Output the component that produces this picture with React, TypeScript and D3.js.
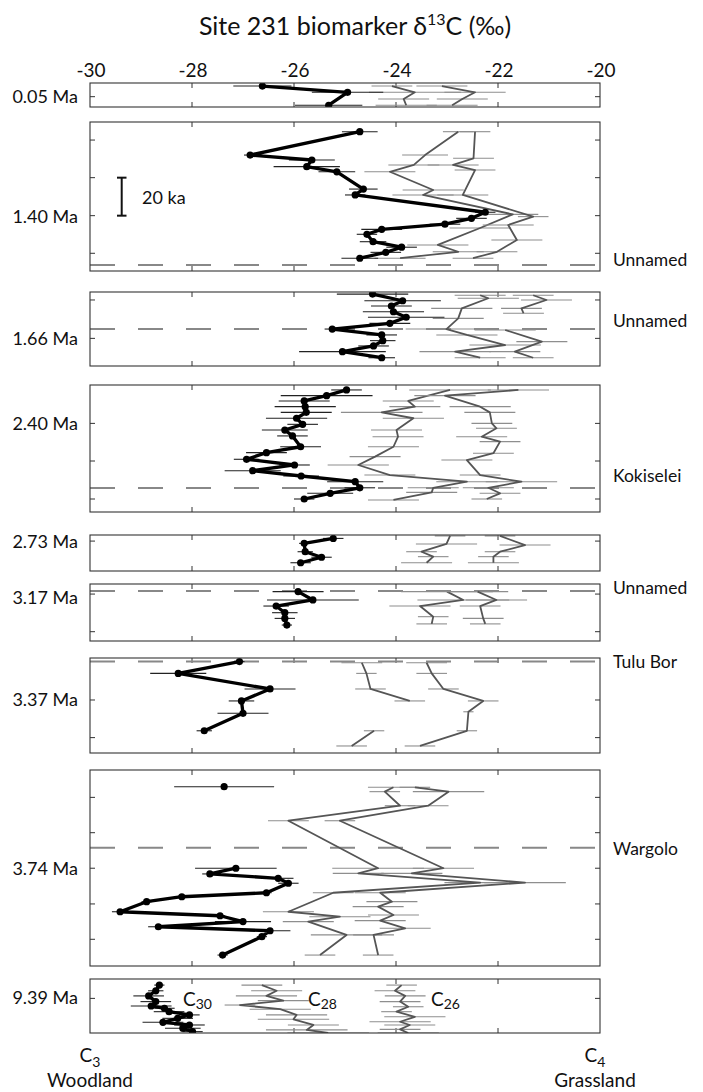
import React from 'react';
import * as d3 from 'd3';

type P = [number, number, number] | null; // [ka below panel top, d13C, error]

// ---------- axis / labels ----------
const xTickValues = [-30, -28, -26, -24, -22, -20];
const innerXTicks = [-28, -26, -24, -22];
const ageLabels = ['0.05 Ma', '1.40 Ma', '1.66 Ma', '2.40 Ma', '2.73 Ma', '3.17 Ma', '3.37 Ma', '3.74 Ma', '9.39 Ma'];
const memberLabels = ['', 'Unnamed', 'Unnamed', 'Kokiselei', '', 'Unnamed', 'Tulu Bor', 'Wargolo', ''];

// ---------- C30 (black) ----------
const c30_005: P[] = [[1.6, -26.62, 0.57], [4.9, -24.95, 0.7], [11.7, -25.32, 0.66]];
const c30_140: P[] = [[5.1, -24.71, 0.35], [17.4, -26.86, 0.12], [20, -25.65, 0.45], [23.5, -25.75, 0.65], [26.2, -25.16, 0.36], [35.3, -24.64, 0.28], [38.4, -24.8, 0.2], [47.5, -22.25, 0.2], [50.7, -22.52, 0.3], [53.8, -23.04, 0.3], [56.5, -24.28, 0.4], [59.1, -24.57, 0.2], [63, -24.45, 0.26], [65.9, -23.89, 0.3], [68.6, -24.2, 0.3], [71.7, -24.71, 0.36]];
const c30_166: P[] = [[1.1, -24.46, 0.7], [4.6, -23.87, 0.75], [7.4, -24.09, 0.4], [10.4, -24.05, 0.6], [13.3, -23.8, 0.75], [16.5, -24.12, 0.4], [19.5, -25.25, 0.15], [22.6, -24.28, 0.3], [25.6, -24.26, 0.25], [28.4, -24.44, 0.3], [31.4, -25.05, 0.85], [34.6, -24.28, 0.26]];
const c30_240: P[] = [[2.6, -24.97, 0.3], [5.6, -25.36, 0.9], [8.4, -25.8, 0.5], [11.4, -25.78, 0.6], [14.4, -25.76, 0.5], [17.5, -25.95, 0.6], [20.7, -25.83, 0.3], [23.7, -26.18, 0.45], [26.8, -26.03, 0.3], [32.5, -25.87, 0.4], [35.6, -26.54, 0.4], [39.1, -26.93, 0.25], [42.1, -25.99, 0.3], [45.1, -26.81, 0.55], [47.9, -25.86, 0.35], [50.9, -24.8, 0.55], [54.1, -24.71, 0.3], [57, -25.29, 0.45], [60, -25.8, 0.2]];
const c30_273: P[] = [[1.8, -25.23, 0.2], [4.4, -25.8, 0.1], [8.8, -25.78, 0.15], [11.7, -25.46, 0.2], [14.6, -25.87, 0.2]];
const c30_317: P[] = [[4.0, -25.92, 0.5], [8.4, -25.63, 0.9], [11.6, -26.35, 0.25], [15.1, -26.18, 0.25], [18.1, -26.18, 0.2], [21.6, -26.14, 0.1]];
const c30_337: P[] = [[1.9, -27.07, 0.1], [8.1, -28.27, 0.55], [16.3, -26.47, 0.5], [22.6, -27.03, 0.25], [29.1, -27.0, 0.5], [38.3, -27.76, 0.15]];
const c30_374: P[] = [[8.8, -27.37, 0.98], null, [51.7, -27.14, 0.8], [54.7, -27.65, 0.15], [57, -26.31, 0.3], [59.6, -26.11, 0.2], [64.6, -26.54, 0.1], [66.7, -28.2, 0.1], [69.3, -28.89, 0.1], [74.6, -29.41, 0.16], [76.7, -27.45, 0.1], [79.8, -27.0, 0.55], [82.5, -28.66, 0.2], [84.6, -26.47, 0.4], [87.7, -26.63, 0.1], [97.4, -27.4, 0.1]];
const c30_939: P[] = [[3.2, -28.64, 0.1], [6.2, -28.71, 0.15], [8.9, -28.85, 0.3], [11.9, -28.71, 0.3], [14.2, -28.8, 0.4], [15.4, -28.54, 0.2], [17.2, -28.45, 0.3], [18.9, -28.05, 0.2], [20.7, -28.28, 0.3], [22.8, -28.57, 0.4], [24.2, -28.05, 0.3], [25.9, -28.18, 0.35], [27.7, -27.99, 0.2]];

// ---------- C28 (grey) ----------
const c28_005: P[] = [[1.6, -24.08, 0.4], [4.9, -23.63, 0.9], [8.4, -23.85, 0.5], [11.7, -23.8, 0.6]];
const c28_140: P[] = [[5.1, -22.78, 0.3], [17.4, -23.43, 0.45], [22.6, -23.65, 0.5], [26.2, -24.12, 0.5], [35.8, -23.27, 0.6], [38.4, -23.47, 0.6], [48.6, -21.71, 0.5], [55.8, -22.35, 0.6], [64.7, -23.18, 0.6], [68.3, -22.78, 0.5], [71.7, -23.92, 0.5]];
const c28_166: P[] = [[1.7, -22.35, 0.5], [3.3, -22.19, 0.6], [8.6, -22.71, 0.6], [13.9, -22.78, 0.5], [19.5, -23.01, 0.8], [22.6, -22.61, 0.6], [27.9, -21.86, 0.7], [31.4, -22.84, 0.7], [34.6, -22.35, 0.5]];
const c28_240: P[] = [[2.6, -22.94, 0.8], [8.4, -23.76, 0.5], [11.4, -23.63, 0.5], [14.4, -24.28, 0.8], [17.5, -23.66, 0.6], [23.7, -23.99, 0.5], [27.2, -23.96, 0.5], [32.5, -24.05, 0.5], [37.7, -24.41, 0.5], [42.1, -24.74, 0.6], [47.4, -24.12, 0.5], [50.9, -22.61, 0.6], [54.1, -23.27, 0.5], [56.5, -23.3, 0.5], [60.5, -24.05, 0.5]];
const c28_273: P[] = [[0.5, -22.94, 0.3], [4.7, -23.01, 0.6], [8.8, -23.5, 0.3], [11.4, -23.27, 0.3], [14.6, -23.4, 0.5]];
const c28_317: P[] = [[4.0, -23.0, 0.9], [8.4, -22.68, 0.9], [11.6, -23.53, 0.6], [17.2, -23.27, 0.3], [21, -23.3, 0.3]];
const c28_337: P[] = [[2.5, -24.67, 0.4], [8.1, -24.58, 0.2], [16.3, -24.5, 0.3], [22.6, -23.73, 0.3], null, [38.3, -24.43, 0.2], [46.3, -24.87, 0.3]];
const c28_374: P[] = [[9.1, -24.05, 0.5], [11.4, -24.22, 0.3], [18.8, -23.92, 0.3], [26.7, -26.11, 0.4], [51.7, -24.35, 0.9], [54.4, -24.74, 0.5], [59.3, -22.35, 0.7], [64.6, -25.23, 0.4], [74.6, -26.11, 0.5], [77.2, -25.1, 0.6], [79.8, -25.72, 0.5], [86.8, -24.97, 0.7], [97.4, -25.49, 0.3]];
const c28_939: P[] = [[3.2, -26.63, 0.4], [6.2, -26.34, 0.5], [8.9, -26.54, 0.6], [11.4, -26.21, 0.5], [13.7, -27.06, 0.3], [15.9, -26.27, 0.6], [18.9, -25.95, 0.6], [21.2, -26.01, 0.7], [24.2, -25.62, 0.5], [26.8, -25.75, 0.8], [28.4, -25.33, 0.8]];

// ---------- C26 (grey) ----------
const c26_005: P[] = [[1.6, -23.1, 0.5], [4.9, -22.45, 0.6], [8.4, -22.7, 0.5], [11.7, -22.9, 0.5]];
const c26_140: P[] = [[5.1, -22.45, 0.3], [19.1, -22.48, 0.4], [22.6, -22.88, 0.5], [25.3, -22.45, 0.4], [38.4, -22.69, 0.5], [49.8, -21.31, 0.3], [54.2, -21.8, 0.5], [62.1, -21.63, 0.5], [68.3, -22.02, 0.4], [71.7, -22.49, 0.4]];
const c26_166: P[] = [[1.7, -21.31, 0.4], [4.2, -21.05, 0.5], [8.6, -21.54, 0.4], [11.2, -21.5, 0.4], null, [20.0, -21.86, 0.6], [26.1, -21.14, 0.5], [31.4, -21.67, 0.5], [34.6, -21.31, 0.4]];
const c26_240: P[] = [[2.6, -21.6, 0.6], [5.6, -23.04, 0.6], [11.4, -22.35, 0.6], [14.4, -22.16, 0.5], [20.2, -22.12, 0.4], [22.8, -22.03, 0.4], [27.2, -22.32, 0.5], [29.8, -21.96, 0.4], [35.9, -22.09, 0.4], [39.5, -22.61, 0.5], [47.4, -22.35, 0.4], [50.9, -21.54, 0.7], [54.1, -22.19, 0.5], [57, -21.96, 0.4], [60, -22.22, 0.3]];
const c26_273: P[] = [[0.5, -21.96, 0.3], [5.3, -21.47, 0.5], [8.8, -21.96, 0.3], [11.4, -22.09, 0.3], [14.6, -22.09, 0.5]];
const c26_317: P[] = [[4.0, -22.4, 0.6], [8.4, -22.03, 0.6], [11.6, -22.35, 0.4], [18.1, -22.29, 0.4], [21, -22.25, 0.3]];
const c26_337: P[] = [[2.5, -23.4, 0.4], [8.1, -23.3, 0.3], [16.3, -23.07, 0.3], [22.6, -22.29, 0.3], [28.3, -22.58, 0.1], [38.3, -22.61, 0.2], [46.3, -23.53, 0.3]];
const c26_374: P[] = [[9.1, -23.63, 0.3], [11.4, -22.97, 0.7], [18.8, -23.37, 0.4], [26.7, -25.1, 0.3], [51.7, -23.07, 0.6], [54.4, -23.69, 0.6], [59.3, -21.47, 0.8], [64.6, -24.31, 0.5], [69.3, -24.08, 0.5], [71.9, -24.35, 0.5], [76.3, -24.05, 0.5], [79.3, -24.31, 0.5], [83.3, -23.82, 0.5], [86.8, -24.44, 0.4], [97.4, -24.35, 0.3]];
const c26_939: P[] = [[3.2, -23.89, 0.3], [6.2, -24.02, 0.4], [8.9, -23.82, 0.4], [11.9, -23.92, 0.4], [14.6, -23.76, 0.3], [17.2, -23.99, 0.3], [19.9, -23.63, 0.6], [22.5, -23.92, 0.6], [24.2, -23.73, 0.5], [26.5, -23.92, 0.4], [28.4, -23.76, 0.6]];

const c30Series = [c30_005, c30_140, c30_166, c30_240, c30_273, c30_317, c30_337, c30_374, c30_939];
const c28Series = [c28_005, c28_140, c28_166, c28_240, c28_273, c28_317, c28_337, c28_374, c28_939];
const c26Series = [c26_005, c26_140, c26_166, c26_240, c26_273, c26_317, c26_337, c26_374, c26_939];

// member boundaries (ka below panel top), y-ticks (ka below panel top)
const boundaryKa: (number | null)[] = [null, 75.3, 19.5, 54.2, null, 3.7, 1.9, 40.9, null];
const yTickKa: number[][] = [[7.2], [9.5, 29.3, 49.3, 69.1], [4.2, 24.4], [20.2, 40, 60], [3.2], [5.3, 25.1], [22.1, 41.9], [14.4, 33, 51.7, 70.5, 89.1], [10.2]];

// ---------- layout ----------
const W = 703, H = 1092;
const PLOT_L = 90, PLOT_R = 600;
const PX_PER_KA = 1.9;
const panelTop = [83, 122, 292, 385, 535, 584, 658, 770, 979];
const panelBottom = [107, 271, 366, 512, 571, 641, 753, 966, 1033];
const ageLabelY = [96, 216, 338, 423, 541, 597, 699, 868, 997];
const memberLabelY = [0, 259, 320, 475, 0, 587, 661, 848, 0];

const FONT = 'Lato, "Open Sans", sans-serif';
const GREY = '#555';
const GREY_BAR = '#8e8e8e';

export default function App() {
  const x = d3.scaleLinear().domain([-30, -20]).range([PLOT_L, PLOT_R]);

  const panels = panelTop.map((top, i) => {
    const bottom = panelBottom[i];
    const y = d3.scaleLinear().domain([0, (bottom - top) / PX_PER_KA]).range([top, bottom]);
    const line = d3.line<P>().defined(d => d !== null).x(d => x((d as any)[1])).y(d => y((d as any)[0]));
    const clipId = `clip${i}`;

    const series = (data: P[], color: string, barColor: string, width: number, dots: boolean, key: string) => {
      const pts = data.filter(d => d !== null) as [number, number, number][];
      return (
        <g key={key} clipPath={`url(#${clipId})`}>
          {pts.map((d, j) => (
            <line key={`e${j}`} x1={x(d[1] - d[2])} x2={x(d[1] + d[2])} y1={y(d[0])} y2={y(d[0])} stroke={barColor} strokeWidth={1.1} />
          ))}
          <path d={line(data) || ''} fill="none" stroke={color} strokeWidth={width} strokeLinejoin="round" />
          {dots && pts.map((d, j) => <circle key={`c${j}`} cx={x(d[1])} cy={y(d[0])} r={3.6} fill={color} />)}
        </g>
      );
    };

    return (
      <g key={i}>
        <defs>
          <clipPath id={clipId}>
            <rect x={PLOT_L} y={top} width={PLOT_R - PLOT_L} height={bottom - top} />
          </clipPath>
        </defs>
        {innerXTicks.map(t => (
          <g key={`xt${t}`} stroke="#333" strokeWidth={1}>
            <line x1={x(t)} x2={x(t)} y1={top} y2={top + 5} />
            <line x1={x(t)} x2={x(t)} y1={bottom} y2={bottom - 5} />
          </g>
        ))}
        {yTickKa[i].map((t, j) => (
          <g key={`yt${j}`} stroke="#333" strokeWidth={1}>
            <line x1={PLOT_L} x2={PLOT_L + 5} y1={y(t)} y2={y(t)} />
            <line x1={PLOT_R} x2={PLOT_R - 5} y1={y(t)} y2={y(t)} />
          </g>
        ))}
        {boundaryKa[i] !== null && (
          <line x1={PLOT_L} x2={PLOT_R} y1={y(boundaryKa[i] as number)} y2={y(boundaryKa[i] as number)}
            stroke="#888" strokeWidth={2} strokeDasharray="25,23" />
        )}
        {series(c28Series[i], GREY, GREY_BAR, 1.8, false, 'c28')}
        {series(c26Series[i], GREY, GREY_BAR, 1.8, false, 'c26')}
        {series(c30Series[i], '#000', '#222', 3.3, true, 'c30')}
        <rect x={PLOT_L} y={top} width={PLOT_R - PLOT_L} height={bottom - top} fill="none" stroke="#333" strokeWidth={1.1} />
        <text x={78} y={ageLabelY[i]} textAnchor="end" dominantBaseline="central" fontSize={18} fontFamily={FONT} fill="#111">{ageLabels[i]}</text>
        {memberLabels[i] && (
          <text x={613} y={memberLabelY[i]} textAnchor="start" dominantBaseline="central" fontSize={17.5} fontFamily={FONT} fill="#111">{memberLabels[i]}</text>
        )}
      </g>
    );
  });

  // scale bar in 1.40 Ma panel (20 ka)
  const sbTop = panelTop[1] + 29.3 * PX_PER_KA;
  const sbBot = sbTop + 20 * PX_PER_KA;

  return (
    <svg width={W} height={H} style={{ position: 'absolute', left: 0, top: 0, background: '#fff' }} fontFamily={FONT}>
      <rect x={0} y={0} width={W} height={H} fill="#fff" />
      <text x={355} y={35} textAnchor="middle" fontSize={25} fill="#111">
        Site 231 biomarker δ<tspan fontSize={16} dy={-10}>13</tspan><tspan dy={10}>C (‰)</tspan>
      </text>
      {xTickValues.map(t => (
        <text key={t} x={x(t) + 1} y={77} textAnchor="middle" fontSize={19} fill="#111">{t}</text>
      ))}
      {panels}
      <g stroke="#111" strokeWidth={2}>
        <line x1={121.7} x2={121.7} y1={sbTop} y2={sbBot} />
        <line x1={117} x2={126.5} y1={sbTop} y2={sbTop} />
        <line x1={117} x2={126.5} y1={sbBot} y2={sbBot} />
      </g>
      <text x={142} y={(sbTop + sbBot) / 2} dominantBaseline="central" fontSize={18} fill="#111">20 ka</text>
      <text x={183} y={998} dominantBaseline="central" fontSize={19} fill="#111">C<tspan fontSize={14} dy={5}>30</tspan></text>
      <text x={308} y={998} dominantBaseline="central" fontSize={19} fill="#111">C<tspan fontSize={14} dy={5}>28</tspan></text>
      <text x={431} y={998} dominantBaseline="central" fontSize={19} fill="#111">C<tspan fontSize={14} dy={5}>26</tspan></text>
      <text x={90} y={1062} textAnchor="middle" fontSize={19} fill="#111">C<tspan fontSize={14} dy={5}>3</tspan></text>
      <text x={90} y={1087} textAnchor="middle" fontSize={19} fill="#111">Woodland</text>
      <text x={595} y={1062} textAnchor="middle" fontSize={19} fill="#111">C<tspan fontSize={14} dy={5}>4</tspan></text>
      <text x={595} y={1087} textAnchor="middle" fontSize={19} fill="#111">Grassland</text>
    </svg>
  );
}
